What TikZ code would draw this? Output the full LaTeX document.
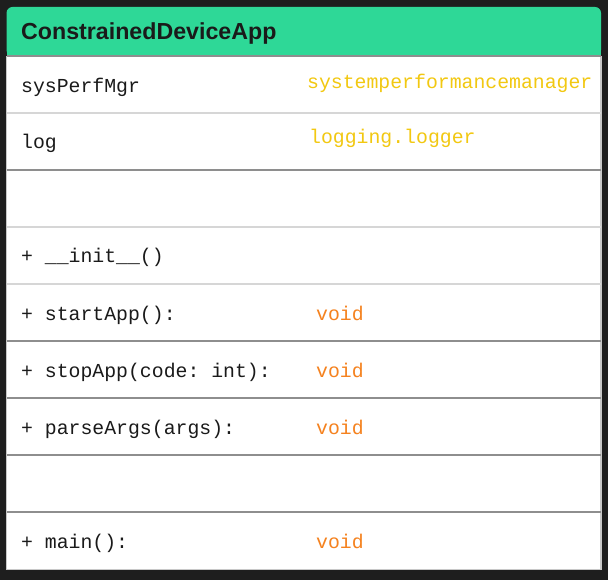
\documentclass[tikz,border=0pt]{standalone}
\usepackage{fontspec}
\setmonofont{Liberation Mono}
\newfontfamily\headfont{Liberation Sans}
\usepackage{xcolor}
\definecolor{bg}{HTML}{1E1E1E}
\definecolor{head}{HTML}{2ED897}
\definecolor{attr}{HTML}{F2C811}
\definecolor{ret}{HTML}{F5821F}
\definecolor{ink}{HTML}{1A1A1A}
\definecolor{lite}{HTML}{D6D6D6}
\definecolor{dark}{HTML}{8E8E8E}
\definecolor{edge}{HTML}{C8C8C8}

\begin{document}
\begin{tikzpicture}[x=1pt,y=-1pt,
  m/.style={anchor=base west,inner sep=0pt,text=ink,font=\ttfamily\fontsize{19.8}{22}\selectfont},
  a/.style={m,text=attr},
  r/.style={m,text=ret}]
				\fill[bg] (0,0) rectangle (608,580);
				\fill[white] (6.5,56) rectangle (601,569.5);
				\fill[head,rounded corners=6] (6.5,7) rectangle (601,56);
				\fill[head] (6.5,30) rectangle (601,56);
				\draw[edge,line width=1.5] (6.5,56) -- (6.5,569.5) -- (601,569.5) -- (601,56);
				\foreach \y/\c in {56/dark,113/lite,170/dark,227/lite,284/lite,341/dark,398/dark,455/dark,512/dark}
					\draw[color=\c,line width=2] (7,\y) -- (601,\y);
				\node[anchor=base west,inner sep=0pt,text=ink,font=\headfont\bfseries\fontsize{23.2}{25}\selectfont] (hd) at (21,40) {ConstrainedDeviceApp};
				\node[m] (spm) at (21,93) {sysPerfMgr};
				\node[a] (spmT) at (307,89) {systemperformancemanager};
				\node[m] (lg) at (21,149) {log};
				\node[a] (lgT) at (309,144) {logging.logger};
				\node[m] (init) at (21,263) {+ \_\_init\_\_()};
				\node[m] (start) at (21,320) {+ startApp():};
				\node[r] (startT) at (316,320) {void};
				\node[m] (stop) at (21,377) {+ stopApp(code: int):};
				\node[r] (stopT) at (316,377) {void};
				\node[m] (parse) at (21,434) {+ parseArgs(args):};
				\node[r] (parseT) at (316,434) {void};
				\node[m] (mainf) at (21,548) {+ main():};
				\node[r] (mainT) at (316,548) {void};
			\end{tikzpicture}
\end{document}
